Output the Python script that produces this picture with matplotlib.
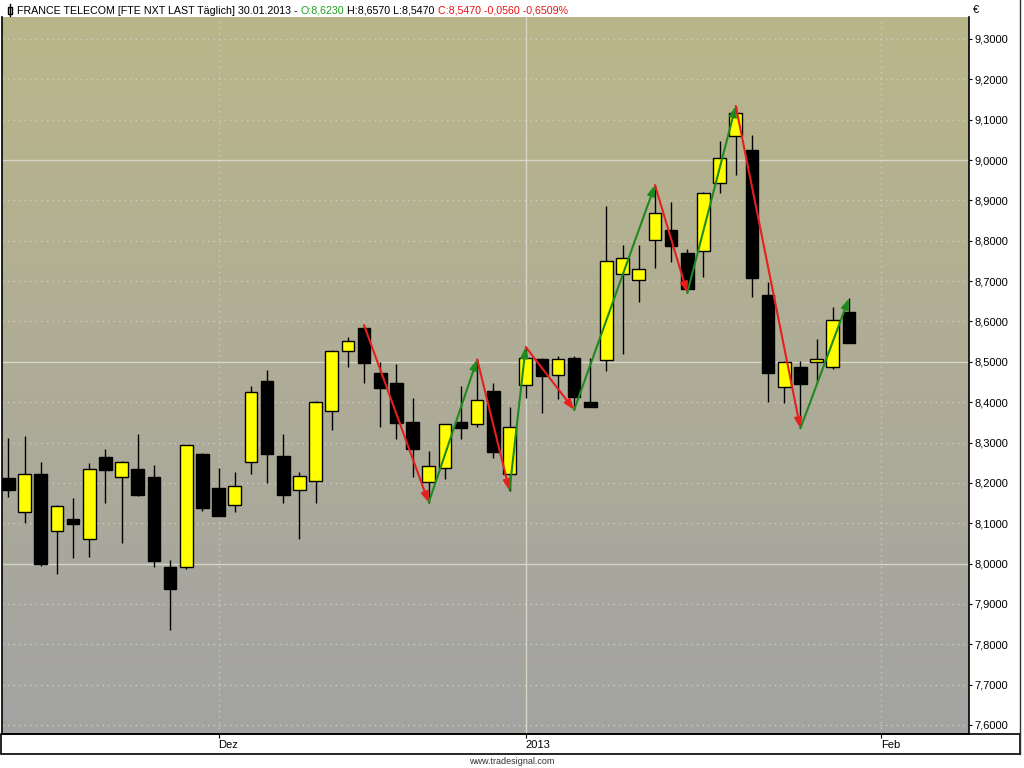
import matplotlib
matplotlib.use("Agg")
import matplotlib.pyplot as plt
import numpy as np
import pandas as pd
from matplotlib.patches import Rectangle
from matplotlib.lines import Line2D
import matplotlib.ticker as mticker

# ---------------- data ----------------
opens = [8.211, 8.129, 8.222, 8.080, 8.110, 8.060, 8.264, 8.215, 8.234, 8.214,
         7.991, 7.991, 8.272, 8.187, 8.146, 8.251, 8.452, 8.267, 8.183, 8.205,
         8.377, 8.528, 8.583, 8.473, 8.448, 8.351, 8.201, 8.236, 8.351, 8.345,
         8.428, 8.221, 8.442, 8.507, 8.467, 8.510, 8.401, 8.504, 8.717, 8.702,
         8.801, 8.827, 8.769, 8.775, 8.942, 9.060, 9.025, 8.666, 8.437, 8.486,
         8.499, 8.486, 8.623]
highs = [8.310, 8.317, 8.252, 8.145, 8.163, 8.250, 8.284, 8.253, 8.321, 8.244,
         8.009, 8.295, 8.273, 8.238, 8.227, 8.440, 8.480, 8.320, 8.226, 8.402,
         8.530, 8.562, 8.591, 8.500, 8.495, 8.411, 8.279, 8.347, 8.441, 8.506,
         8.448, 8.389, 8.537, 8.510, 8.514, 8.514, 8.509, 8.886, 8.789, 8.789,
         8.938, 8.896, 8.780, 8.920, 9.047, 9.134, 9.062, 8.699, 8.502, 8.502,
         8.557, 8.637, 8.657]
lows = [8.166, 8.101, 7.995, 7.974, 8.013, 8.017, 8.149, 8.052, 8.167, 7.991,
        7.835, 7.986, 8.131, 8.117, 8.129, 8.221, 8.200, 8.149, 8.061, 8.149,
        8.331, 8.488, 8.448, 8.339, 8.308, 8.215, 8.151, 8.209, 8.308, 8.339,
        8.262, 8.181, 8.410, 8.374, 8.407, 8.381, 8.388, 8.478, 8.519, 8.648,
        8.733, 8.747, 8.671, 8.711, 8.918, 8.963, 8.660, 8.401, 8.399, 8.335,
        8.451, 8.481, 8.547]
closes = [8.183, 8.221, 7.999, 8.142, 8.099, 8.234, 8.233, 8.251, 8.171, 8.007,
          7.938, 8.293, 8.138, 8.118, 8.192, 8.424, 8.272, 8.171, 8.217, 8.400,
          8.528, 8.552, 8.498, 8.436, 8.349, 8.285, 8.243, 8.345, 8.335, 8.405,
          8.277, 8.339, 8.509, 8.466, 8.507, 8.414, 8.389, 8.749, 8.757, 8.729,
          8.868, 8.788, 8.681, 8.918, 9.004, 9.116, 8.708, 8.472, 8.500, 8.446,
          8.507, 8.603, 8.547]

first_day = "2012-11-14"
holidays = ["2012-12-25", "2012-12-26", "2013-01-01"]

# zigzag swing points: candle number and price
zz_bar = [22, 26, 29, 31, 32, 35, 40, 42, 45, 49, 52]
zz_price = [8.591, 8.151, 8.506, 8.181, 8.537, 8.381, 8.938, 8.671, 9.134, 8.335, 8.657]

tick_dates = ["2012-12-03", "2013-01-02", "2013-02-01"]
tick_labels = ["Dez", "2013", "Feb"]

title_name = "FRANCE TELECOM [FTE NXT LAST Täglich]"

# ---------------- figure ----------------
W, H = 1024, 768
plt.rcParams["font.family"] = ["Liberation Sans", "DejaVu Sans"]
fig = plt.figure(figsize=(W / 100, H / 100), dpi=100, facecolor="white")


def fx(px):
    return px / W


def fy(py):
    return 1 - py / H


L, R, T, B = 2, 969, 17, 734
ax = fig.add_axes([fx(L), fy(B), (R - L) / W, (B - T) / H])

# gradient background
top = np.array([186, 182, 138]) / 255
bot = np.array([163, 163, 163]) / 255
t = np.linspace(0, 1, 256)[:, None]
grad = (top[None, :] * (1 - t) + bot[None, :] * t)[:, None, :]
ax.imshow(grad, extent=[0, 1, 0, 1], transform=ax.transAxes, aspect="auto",
          zorder=0, interpolation="bilinear")

n = len(opens)
days = pd.bdate_range(first_day, "2013-02-28", freq="C", holidays=holidays)
idx = np.arange(n)
o = np.array(opens); h = np.array(highs); l = np.array(lows); c = np.array(closes)

ymin, ymax = 7.5776, 9.3545
xmin, xmax = -0.40, 59.43

# grid
yt = np.round(np.arange(7.6, 9.3001, 0.1), 1)
for v in yt:
    if abs(v * 2 - round(v * 2)) < 1e-6:
        ax.axhline(v, color="#d6d6c6", lw=1, zorder=1)
    else:
        ax.axhline(v, color="#cdcdbf", lw=1, ls=(0, (1, 3)), zorder=1)

tick_pos = [days.get_loc(pd.Timestamp(d)) for d in tick_dates]
for p, lab in zip(tick_pos, tick_labels):
    if lab.isdigit():
        ax.axvline(p, color="#d6d6c6", lw=1, zorder=1)
    else:
        ax.axvline(p, color="#cdcdbf", lw=1, ls=(0, (1, 3)), zorder=1)

# candles
up = c >= o
ax.vlines(idx, l, h, color="black", lw=1, zorder=2)
bottoms = np.minimum(o, c)
heights = np.maximum(np.abs(c - o), 0.003)
ax.bar(idx, heights, bottom=bottoms, width=0.78,
       color=np.where(up, "#ffff00", "#000000"), edgecolor="black",
       linewidth=1, zorder=3)

# zigzag arrows
for i in range(len(zz_bar) - 1):
    x0, y0 = zz_bar[i], zz_price[i]
    x1, y1 = zz_bar[i + 1], zz_price[i + 1]
    col = "#e61e1e" if y1 < y0 else "#1e8a1e"
    ax.annotate("", xy=(x1, y1), xytext=(x0, y0),
                arrowprops=dict(arrowstyle="-|>,head_length=0.6,head_width=0.22",
                                color=col, lw=1.5, shrinkA=0, shrinkB=0,
                                mutation_scale=10),
                zorder=4)

ax.set_xlim(xmin, xmax)
ax.set_ylim(ymin, ymax)

# axes styling
for s in ["left", "bottom", "right"]:
    ax.spines[s].set_color("black")
    ax.spines[s].set_linewidth(1.2)
ax.spines["top"].set_visible(False)

ax.yaxis.tick_right()
ax.set_yticks(yt)
ax.yaxis.set_major_formatter(mticker.FuncFormatter(lambda v, p: f"{v:.4f}".replace(".", ",")))
ax.tick_params(axis="y", direction="out", length=2.5, width=0.8, pad=1.5,
               labelsize=8, colors="black")
ax.set_xticks(tick_pos)
ax.set_xticklabels(tick_labels, ha="left")
ax.tick_params(axis="x", direction="out", length=3, width=0.8, pad=1.2,
               labelsize=8)

# euro sign
fig.text(fx(973), fy(10), "€", fontsize=8, va="center", ha="left")

# bottom frame
fig.add_artist(Rectangle((fx(0.5), fy(754)), fx(1019), (754 - B) / H,
                         fill=False, edgecolor="black", lw=1.2,
                         transform=fig.transFigure))
fig.add_artist(Line2D([fx(1019.5), fx(1019.5)], [fy(754), fy(0)],
                      color="#303030", lw=1.0, transform=fig.transFigure))

# watermark
fig.text(0.5, fy(761), "www.tradesignal.com", fontsize=6.5, ha="center",
         va="center", color="#333333")

# header icon
fig.add_artist(Line2D([fx(9.5), fx(9.5)], [fy(4), fy(16)], color="black", lw=1,
                      transform=fig.transFigure))
fig.add_artist(Rectangle((fx(7.5), fy(13.5)), fx(4), 6.5 / H, facecolor="#ffff00",
                         edgecolor="black", lw=1, transform=fig.transFigure))

# header text
last = n - 1
chg = c[last] - c[last - 1]
pct = chg / c[last - 1] * 100
date_str = days[last].strftime("%d.%m.%Y")


def de(v, d=4):
    return f"{v:.{d}f}".replace(".", ",")


segments = [
    (f"{title_name} {date_str} - ", "black"),
    (f"O:{de(o[last])}", "#1ea01e"),
    (f" H:{de(h[last])} L:{de(l[last])} ", "black"),
    (f"C:{de(c[last])} {de(chg)} {de(pct)}%", "#e61414"),
]
renderer = fig.canvas.get_renderer()
# fit font size to target width
full = "".join(s for s, _ in segments)
probe = fig.text(0, 0, full, fontsize=10)
wprobe = probe.get_window_extent(renderer).width
probe.remove()
fs = 10 * 553 / wprobe
xpos = 17
for s, col in segments:
    tx = fig.text(fx(xpos), fy(10.5), s, fontsize=fs, color=col, va="center", ha="left")
    xpos += tx.get_window_extent(renderer).width

fig.savefig("out.png", dpi=100, facecolor="white")
